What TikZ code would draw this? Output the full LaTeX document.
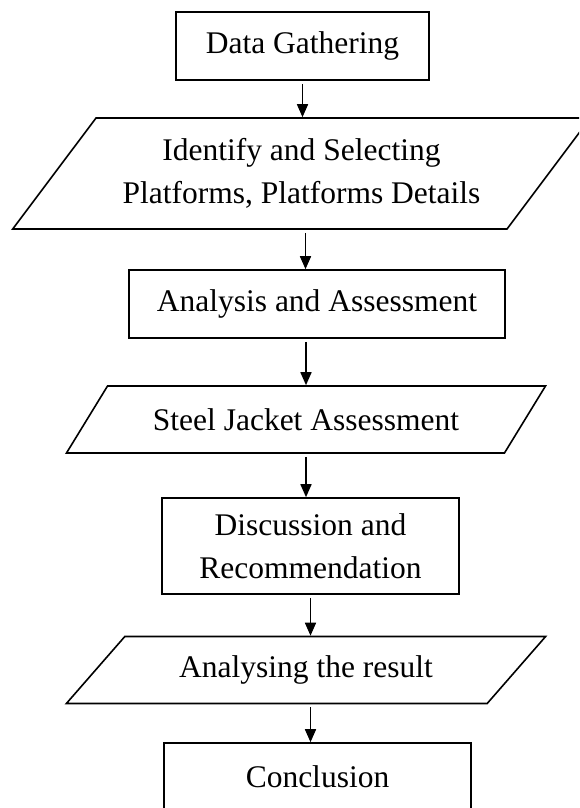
\documentclass[tikz,border=0pt]{standalone}
\usepackage{fontspec}
\setmainfont{Liberation Serif}
\usetikzlibrary{shapes.geometric,arrows.meta}
\tikzset{
  procbox/.style={draw, line width=1.6pt, inner sep=0pt, align=center},
  iobox/.style={draw, line width=1.6pt, trapezium, trapezium stretches=true, inner sep=0pt, align=center},
  flowarrow/.style={line width=1.6pt, -{Triangle[length=13pt,width=11pt]}, shorten <=3pt}
}
\begin{document}
\begin{tikzpicture}[x=1pt, y=-1pt, font=\fontsize{31.5}{43}\selectfont]
\useasboundingbox (0,0) rectangle (579,808);
\clip (0,0) rectangle (579,808);
\node[procbox, minimum width=253pt, minimum height=68pt] (gather) at (302.5,46) {Data Gathering};
\node[iobox, trapezium left angle=44, trapezium right angle=136, minimum width=579pt, minimum height=111pt] (select) at (301.5,173.5) {Identify and Selecting\\Platforms, Platforms Details};
\node[procbox, minimum width=376pt, minimum height=68pt] (assess) at (317,304) {Analysis and Assessment};
\node[iobox, trapezium left angle=35, trapezium right angle=145, minimum width=480pt, minimum height=67pt] (jacket) at (306,419.5) {Steel Jacket Assessment};
\node[procbox, minimum width=297pt, minimum height=96pt] (discuss) at (310.5,546) {Discussion and\\Recommendation};
\node[iobox, trapezium left angle=35, trapezium right angle=145, minimum width=480pt, minimum height=67pt] (result) at (306,670) {Analysing the result};
\node[procbox, minimum width=307pt, minimum height=68pt] (concl) at (317.5,777) {Conclusion};
% arrows
\draw[flowarrow] (gather.south) -- (gather.south |- select.north);
\draw[flowarrow] ([xshift=4pt]select.center |- select.south) -- ([xshift=4pt]select.center |- assess.north);
\draw[flowarrow] (jacket.center |- assess.south) -- (jacket.center |- jacket.north);
\draw[flowarrow] (jacket.center |- jacket.south) -- (jacket.center |- discuss.north);
\draw[flowarrow] (discuss.south) -- (discuss.south |- result.north);
\draw[flowarrow] (discuss.south |- result.south) -- (discuss.south |- concl.north);
\end{tikzpicture}
\end{document}
